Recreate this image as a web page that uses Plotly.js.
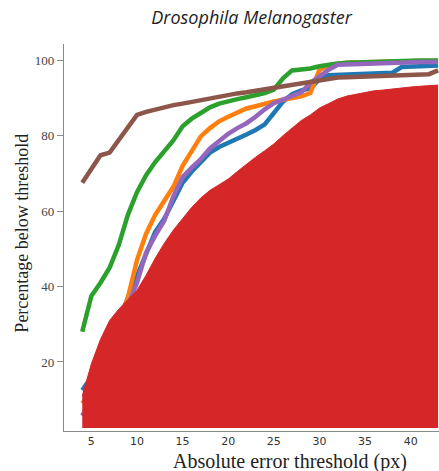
<!DOCTYPE html>
<html><head><meta charset="utf-8">
<script src="https://cdn.plot.ly/plotly-3.0.1.min.js"></script>
<style>html,body{margin:0;padding:0;background:#fff}#chart{width:439px;height:471px}</style>
</head><body><div id="chart"></div>
<script>
const thresholds = [4,5,6,7,8,9,10,11,12,13,14,15,16,17,18,19,20,21,22,23,24,25,26,27,28,29,30,31,32,33,34,35,36,37,38,39,40,41,42,43];
const blueVals = [12.5,16,21,26,31,37,43,49,54.5,58,62.5,67.5,70.5,73,75.5,77,78,79,80.3,81.5,83,86,89,91,92,92.5,95,96,96.1,96.2,96.3,96.3,96.4,96.5,96.7,98.2,98.3,98.4,98.5,98.6];
const orangeVals = [9,12,17,23,30,37,47,54,59,63,66.5,72,76,79.8,82,83.8,85,86.2,87.2,87.8,88.6,89.1,89.5,89.9,90.4,91.3,97.5,98.7,99.1,99.3,99.4,99.5,99.6,99.6,99.7,99.7,99.8,99.8,99.8,99.8];
const greenVals = [28,37.5,41,45,51,59,65,69.5,73,76,78.8,82.5,84.5,86,87.5,88.5,89.2,89.7,90.2,90.7,91.3,92.2,95.2,97.3,97.5,97.8,98.4,98.9,99.1,99.3,99.4,99.5,99.6,99.7,99.7,99.8,99.8,99.9,99.9,99.9];
const purpleVals = [5.7,10,15,21,28,35,41,49,53.5,57.5,64,69,71.5,73.8,76.6,78.5,80.5,82,83.3,85,87,88.6,89.5,90.3,91.5,94,95.8,97.5,98.8,98.9,99,99.1,99.2,99.2,99.3,99.4,99.4,99.5,99.5,99.5];
const brownVals = [67.5,71,74.8,75.5,79,82,85.5,86.3,87,87.6,88.1,88.5,89,89.4,89.8,90.3,90.8,91.2,91.5,91.9,92.3,92.6,92.9,93.3,93.7,94.3,94.8,95.2,95.4,95.5,95.6,95.6,95.7,95.8,95.8,95.9,96,96,96.3,97.3];
const redVals = [11,19.5,26,31,34,36.5,39,43,47.5,51.5,55,58,61,63.5,65.5,67,68.5,70.5,72.5,74.3,76,77.8,80,82,84,85.5,87.3,88.5,89.7,90.5,91,91.5,91.9,92.1,92.4,92.7,92.9,93.1,93.3,93.4];
const redBase = 2.5;
const yTicks = [20,40,60,80,100];
const xTicks = [5,10,15,20,25,30,35,40];

const lw = 4.5;
function line(y, color){
  return {x: thresholds, y: y, mode:'lines', line:{color:color, width:lw}, hoverinfo:'skip', showlegend:false};
}
const traces = [
  line(blueVals,'#1f77b4'),
  line(orangeVals,'#ff7f0e'),
  line(greenVals,'#2ca02c'),
  line(purpleVals,'#9467bd'),
  line(brownVals,'#8c564b'),
  {x: thresholds, y: thresholds.map(()=>redBase), mode:'lines', line:{width:0,color:'#d62728'}, showlegend:false, hoverinfo:'skip'},
  {x: thresholds, y: redVals, mode:'lines', fill:'tonexty', fillcolor:'#d62728', line:{color:'#d62728', width:1}, showlegend:false, hoverinfo:'skip'}
];

const layout = {
  width:439, height:471,
  margin:{l:64, r:0, t:44, b:40},
  paper_bgcolor:'#fff', plot_bgcolor:'#fff',
  showlegend:false,
  title:{text:'<i>Drosophila Melanogaster</i>', x:0.573, xanchor:'center', y:0.962, yanchor:'middle',
         font:{family:'Open Sans, Noto Sans, sans-serif', size:18, color:'#222'}},
  xaxis:{range:[2,43.1], tickvals:xTicks, ticktext:xTicks.map(String), showgrid:false, zeroline:false,
         showline:true, linecolor:'#8a8a8a', linewidth:1.2, ticks:'', mirror:false,
         tickfont:{family:'DejaVu Sans, sans-serif', size:11, color:'#333'}},
  yaxis:{range:[1.7,104.3], tickvals:yTicks, ticktext:yTicks.map(String), showgrid:false, zeroline:false,
         showline:true, linecolor:'#8a8a8a', linewidth:1.2, ticks:'outside', ticklen:6, tickcolor:'#8a8a8a', tickwidth:1,
         tickfont:{family:'Liberation Serif, serif', size:13, color:'#444'}},
  annotations:[
    {text:'Percentage below threshold', xref:'paper', yref:'paper', x:-0.112, y:0.51, xanchor:'center', yanchor:'middle',
     textangle:-90, showarrow:false, font:{family:'Liberation Serif, serif', size:18, color:'#222'}},
    {text:'Absolute error threshold (px)', xref:'paper', yref:'paper', x:0.603, y:-0.078, xanchor:'center', yanchor:'middle',
     showarrow:false, font:{family:'Liberation Serif, serif', size:20, color:'#222'}}
  ]
};
Plotly.newPlot('chart', traces, layout, {displayModeBar:false, staticPlot:true});
</script></body></html>
